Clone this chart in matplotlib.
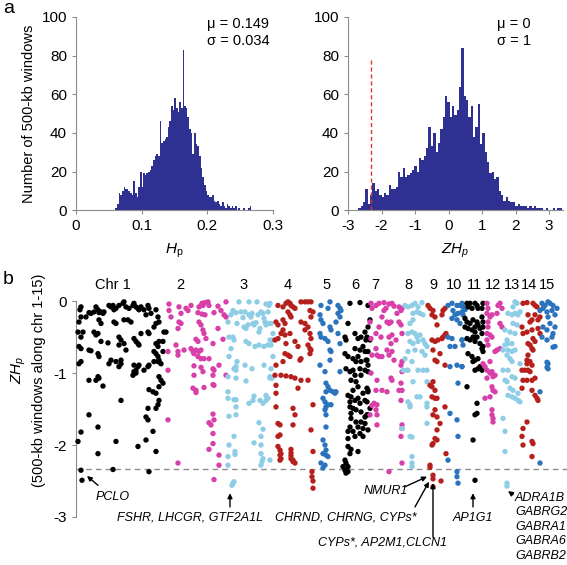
import matplotlib
matplotlib.use("Agg")
import matplotlib.pyplot as plt
import numpy as np

plt.rcParams['font.family'] = ['Liberation Sans', 'DejaVu Sans']
plt.rcParams['mathtext.fontset'] = 'custom'
plt.rcParams['mathtext.rm'] = 'Liberation Sans'
plt.rcParams['mathtext.it'] = 'Liberation Sans:italic'
plt.rcParams['axes.unicode_minus'] = False

# Histogram of Hp (500-kb windows)
hp_bin_start = 0.06
hp_bin_width = 0.0025
hp_counts = [1, 3, 9, 8, 10, 12, 11, 11, 10, 9, 8, 15, 9, 7, 12, 20, 12, 19, 18, 19,
             20, 21, 23, 26, 28, 29, 28, 46, 35, 36, 37, 38, 43, 46, 54, 52, 58, 53, 51, 56,
             53, 83, 54, 53, 48, 42, 40, 29, 40, 34, 33, 28, 22, 17, 13, 10, 8, 7, 7, 8,
             5, 4, 5, 3, 2, 4, 2, 1, 3, 2, 1, 2, 1, 2, 0, 1, 0, 0, 1, 0,
             0, 1, 2, 0]
hp_mean = 0.149
hp_sd = 0.034

# Histogram of ZHp
z_bin_start = -2.7
z_bin_width = 0.07
z_counts = [1, 2, 4, 11, 3, 8, 14, 10, 11, 8, 7, 9, 8, 13, 11, 11, 12, 20, 17, 22,
            17, 18, 19, 21, 23, 20, 27, 26, 28, 32, 43, 33, 40, 30, 35, 42, 48, 59, 56, 48,
            54, 49, 52, 64, 84, 59, 57, 48, 54, 38, 43, 55, 34, 40, 30, 25, 19, 20, 16, 17,
            10, 8, 5, 7, 5, 4, 4, 2, 3, 2, 2, 2, 1, 2, 1, 2, 1, 1, 1, 0,
            1, 0, 0, 1, 0, 1, 1]
z_threshold = -2.33

# ZHp of windows along chromosomes 1-15 (position within chromosome, ZHp)
chrom_names = ['Chr 1', '2', '3', '4', '5', '6', '7', '8', '9', '10', '11', '12', '13', '14', '15']
chrom_lengths = [90, 59, 46, 44, 25, 28, 30, 27, 20, 18, 18, 20, 17, 20, 17]
chrom_label_x = [35, 102, 166, 210, 249, 277, 297, 330, 355, 376, 396, 415, 434, 451, 469]

chr1_points = [
    (3, -0.08), (2, -0.12), (13, -0.17), (11, -0.16), (16, -0.15), (18, -0.08), (20, -0.12),
    (21, -0.16), (23, -0.15), (25, -0.17), (26, -0.15), (31, -0.06), (33, -0.08), (35, -0.06),
    (36, -0.12), (38, -0.10), (41, -0.06), (45, -0.03), (46, -0.01), (48, -0.08), (51, -0.10),
    (55, -0.06), (56, -0.03), (58, -0.08), (60, -0.10), (61, -0.12), (63, -0.08), (66, -0.12),
    (70, -0.06), (71, -0.10), (73, -0.17), (68, -0.19), (78, -0.12), (80, -0.22), (81, -0.29),
    (3, -0.22), (1, -0.29), (8, -0.22), (21, -0.26), (23, -0.31), (36, -0.29), (38, -0.31),
    (46, -0.26), (50, -0.26), (53, -0.29), (78, -0.31), (76, -0.36), (0, -0.43), (5, -0.43),
    (3, -0.50), (1, -0.63), (3, -0.66), (16, -0.43), (18, -0.47), (20, -0.45), (23, -0.56),
    (30, -0.58), (41, -0.50), (43, -0.54), (41, -0.61), (46, -0.59), (48, -0.68), (56, -0.52),
    (58, -0.56), (60, -0.59), (61, -0.61), (63, -0.45), (70, -0.43), (71, -0.45), (78, -0.59),
    (80, -0.63), (81, -0.56), (85, -0.56), (86, -0.43), (88, -0.43), (76, -0.70), (78, -0.73),
    (80, -0.77), (81, -0.82), (80, -0.84), (85, -0.70), (11, -0.68), (13, -0.69), (20, -0.73),
    (21, -0.77), (33, -0.82), (31, -0.87), (38, -0.84), (43, -0.82), (43, -0.87), (41, -0.91),
    (56, -0.89), (58, -0.96), (60, -0.91), (61, -0.89), (66, -0.96), (70, -0.91), (71, -0.89),
    (76, -0.84), (81, -0.84), (83, -0.87), (1, -0.87), (3, -0.84), (11, -1.10), (18, -1.10),
    (20, -1.05), (21, -1.07), (25, -1.18), (55, -1.03), (56, -0.98), (58, -1.00), (81, -1.05),
    (83, -1.10), (85, -1.14), (81, -1.19), (71, -1.23), (75, -1.26), (78, -1.28), (43, -1.38),
    (70, -1.49), (81, -1.38), (80, -1.44), (78, -1.49), (68, -1.61), (70, -1.65), (11, -1.58),
    (20, -1.75), (3, -1.82), (0, -1.95), (38, -1.95), (60, -2.02), (68, -1.93), (75, -1.81),
    (78, -2.09), (20, -2.12), (3, -2.35), (35, -2.34), (71, -2.37), (4, -2.49)]

chr2_points = [
    (1, -0.04), (1, -0.13), (3, -0.22), (11, -0.08), (13, -0.17), (18, -0.10), (20, -0.13),
    (23, -0.06), (30, -0.16), (31, -0.08), (33, -0.06), (34, -0.03), (35, -0.06), (37, -0.02),
    (40, -0.01), (41, -0.06), (50, -0.07), (58, -0.01), (46, -0.16), (53, -0.13), (56, -0.19),
    (58, -0.22), (34, -0.18), (37, -0.19), (11, -0.29), (13, -0.31), (10, -0.38), (31, -0.29),
    (33, -0.33), (35, -0.40), (36, -0.45), (28, -0.53), (30, -0.56), (38, -0.52), (45, -0.59),
    (50, -0.38), (55, -0.53), (8, -0.61), (10, -0.70), (10, -0.75), (16, -0.68), (23, -0.66),
    (25, -0.70), (26, -0.73), (28, -0.68), (31, -0.70), (33, -0.68), (30, -0.77), (33, -0.80),
    (36, -0.80), (41, -0.80), (0, -0.70), (0, -0.96), (26, -0.90), (26, -1.03), (33, -0.92),
    (35, -0.98), (45, -0.94), (46, -0.96), (45, -1.03), (51, -0.89), (58, -1.03), (25, -1.21),
    (28, -1.24), (28, -1.27), (36, -1.20), (45, -1.16), (46, -1.17), (0, -1.65), (45, -1.57),
    (46, -1.65), (41, -1.69), (43, -1.72), (45, -1.84), (45, -1.98), (41, -2.06), (51, -2.14),
    (51, -2.28), (10, -2.25), (46, -2.48)]

chr3_points = [
    (12, -0.01), (22, -0.01), (30, -0.01), (39, -0.04), (42, -0.06), (1, -0.29), (4, -0.19),
    (6, -0.13), (9, -0.16), (10, -0.31), (14, -0.15), (16, -0.23), (18, -0.15), (17, -0.36),
    (19, -0.38), (21, -0.33), (22, -0.19), (24, -0.22), (25, -0.17), (26, -0.31), (27, -0.33),
    (29, -0.30), (31, -0.19), (33, -0.38), (34, -0.15), (36, -0.17), (37, -0.24), (38, -0.29),
    (41, -0.15), (39, -0.33), (42, -0.31), (32, -0.43), (32, -0.61), (2, -0.50), (6, -0.50),
    (7, -0.54), (4, -0.66), (2, -0.77), (19, -0.56), (22, -0.59), (28, -0.63), (37, -0.63),
    (41, -0.61), (45, -0.54), (10, -0.84), (9, -0.91), (9, -0.96), (7, -0.94), (18, -0.89),
    (25, -0.94), (37, -0.89), (43, -1.05), (45, -1.07), (1, -1.05), (9, -1.07), (19, -1.11),
    (1, -1.26), (1, -1.35), (7, -1.37), (9, -1.37), (27, -1.32), (26, -1.38), (22, -1.42),
    (33, -1.38), (39, -1.31), (39, -1.38), (36, -1.42), (9, -1.47), (2, -1.60), (9, -1.58),
    (32, -1.69), (36, -1.78), (7, -1.88), (34, -1.88), (27, -1.97), (2, -2.00), (34, -2.00),
    (8, -2.09), (8, -2.13), (34, -2.12), (1, -2.16), (36, -2.19), (35, -2.23), (34, -2.28),
    (1, -2.28), (7, -2.51), (6, -2.53), (5, -2.56), (43, -0.03), (44, -0.31), (46, -0.45),
    (43, -0.54), (44, -0.61), (46, -0.77), (44, -0.94), (43, -1.07), (41, -1.35), (43, -2.21)]

chr4_points = [
    (5, -0.06), (10, -0.08), (13, -0.03), (15, -0.01), (17, -0.03), (18, -0.06), (20, -0.08),
    (22, -0.10), (15, -0.15), (17, -0.19), (18, -0.22), (28, -0.01), (32, -0.01), (35, -0.01),
    (38, -0.01), (37, -0.13), (40, -0.15), (38, -0.22), (28, -0.29), (32, -0.31), (35, -0.36),
    (3, -0.29), (5, -0.33), (10, -0.26), (12, -0.31), (10, -0.40), (8, -0.45), (12, -0.47),
    (17, -0.45), (5, -0.52), (2, -0.54), (32, -0.40), (37, -0.45), (38, -0.52), (35, -0.61),
    (37, -0.66), (38, -0.68), (37, -0.73), (22, -0.56), (25, -0.63), (28, -0.80), (27, -0.82),
    (13, -0.59), (12, -0.73), (10, -0.84), (15, -0.75), (17, -0.77), (3, -0.89), (2, -1.03),
    (8, -1.03), (13, -1.04), (18, -1.05), (22, -1.07), (28, -1.10), (35, -1.10), (3, -1.17),
    (3, -1.28), (3, -1.47), (25, -1.21), (20, -1.49), (22, -1.58), (40, -1.44), (5, -1.70),
    (7, -1.72), (7, -1.86), (5, -1.88), (20, -1.72), (38, -1.79), (5, -2.02), (7, -2.07),
    (8, -2.12), (7, -2.14), (8, -2.19), (7, -2.21), (18, -2.06), (18, -2.11), (18, -2.15),
    (18, -2.19), (20, -2.21), (20, -2.23), (22, -2.25), (40, -2.09), (39, -2.37), (39, -2.44),
    (40, -2.50), (40, -2.60)]

chr5_points = [
    (4, -0.06), (13, -0.01), (11, -0.10), (21, -0.06), (23, -0.10), (24, -0.13), (21, -0.17),
    (23, -0.22), (19, -0.29), (3, -0.19), (4, -0.26), (6, -0.31), (3, -0.45), (4, -0.50),
    (8, -0.52), (11, -0.56), (13, -0.68), (14, -0.70), (13, -0.82), (21, -0.45), (23, -0.59),
    (13, -0.36), (14, -0.40), (3, -0.89), (8, -0.98), (9, -1.14), (11, -1.19), (9, -1.26),
    (13, -1.24), (16, -1.26), (18, -1.28), (19, -1.26), (6, -1.35), (8, -1.40), (9, -1.47),
    (11, -1.44), (14, -1.44), (8, -1.51), (9, -1.58), (9, -1.75), (6, -1.93), (8, -2.00),
    (9, -2.07), (6, -2.12), (9, -2.14), (11, -2.16), (4, -2.25), (8, -2.28), (6, -2.32),
    (23, -0.98)]

chr6_points = [
    (8, -0.03), (18, -0.02), (6, -0.31), (3, -0.50), (4, -0.54), (13, -0.45), (16, -0.52),
    (19, -0.50), (23, -0.43), (24, -0.54), (13, -0.66), (18, -0.68), (21, -0.63), (23, -0.70),
    (3, -0.73), (6, -0.77), (11, -0.80), (14, -0.84), (16, -0.77), (19, -0.84), (24, -0.82),
    (4, -0.94), (8, -0.98), (11, -0.96), (13, -1.03), (18, -0.94), (19, -1.03), (23, -0.96),
    (26, -0.89), (9, -1.10), (14, -1.12), (16, -1.19), (11, -1.24), (6, -1.31), (9, -1.33),
    (8, -1.40), (13, -1.38), (16, -1.35), (18, -1.42), (21, -1.28), (23, -1.38), (26, -1.24),
    (8, -1.47), (11, -1.49), (9, -1.56), (14, -1.51), (19, -1.54), (23, -1.61), (26, -1.58),
    (9, -1.63), (14, -1.68), (16, -1.75), (19, -1.68), (21, -1.77), (23, -1.70), (8, -1.75),
    (6, -1.81), (11, -1.81), (13, -1.88), (6, -1.91), (18, -1.84), (21, -1.88), (6, -2.02),
    (9, -2.06), (8, -2.12), (16, -2.09), (3, -2.21), (4, -2.25), (6, -2.30), (3, -2.35),
    (4, -2.39), (6, -2.37), (1, -2.30), (26, -0.06), (28, -0.26), (26, -0.36), (25, -0.50),
    (28, -0.54), (26, -0.70), (25, -0.82), (26, -0.98), (25, -1.21), (26, -1.26), (25, -1.40),
    (28, -1.49), (25, -1.58), (26, -1.79)]

chr7_points = [
    (6, -0.06), (9, -0.03), (14, -0.02), (16, -0.10), (19, -0.04), (22, -0.03), (24, -0.07),
    (29, -0.08), (31, -0.13), (27, -0.17), (32, -0.10), (12, -0.22), (14, -0.13), (17, -0.29),
    (19, -0.31), (21, -0.29), (29, -0.29), (31, -0.33), (9, -0.36), (6, -0.45), (11, -0.50),
    (19, -0.50), (22, -0.47), (26, -0.54), (21, -0.59), (32, -0.45), (6, -0.66), (7, -0.75),
    (9, -0.77), (12, -0.77), (17, -0.68), (19, -0.75), (22, -0.70), (24, -0.82), (32, -0.84),
    (31, -0.89), (32, -0.98), (7, -1.10), (21, -1.07), (22, -1.10), (31, -1.14), (6, -1.24),
    (12, -1.24), (17, -1.26), (29, -1.24), (32, -1.24), (4, -1.42), (7, -1.44), (31, -1.38),
    (6, -1.51), (7, -1.58), (7, -1.72), (32, -1.72), (32, -1.77), (31, -1.88), (32, -2.25),
    (19, -2.37), (1, -0.03), (2, -0.10), (0, -0.29), (1, -0.52), (2, -0.75), (1, -1.00),
    (2, -1.45), (0, -1.58)]

chr8_points = [
    (5, -0.06), (8, -0.08), (12, -0.06), (15, -0.03), (18, -0.08), (22, -0.02), (13, -0.17),
    (17, -0.15), (20, -0.17), (23, -0.19), (10, -0.31), (13, -0.26), (8, -0.45), (12, -0.43),
    (15, -0.45), (17, -0.50), (20, -0.47), (10, -0.56), (13, -0.59), (18, -0.56), (23, -0.54),
    (25, -0.59), (27, -0.63), (8, -0.70), (15, -0.68), (22, -0.70), (25, -0.75), (5, -0.80),
    (12, -0.84), (3, -0.96), (7, -0.96), (8, -0.96), (18, -0.96), (23, -0.96), (27, -0.96),
    (13, -1.12), (27, -1.12), (17, -1.33), (20, -1.33), (8, -1.40), (10, -1.44), (10, -1.47),
    (27, -1.42), (27, -1.47), (27, -1.70), (2, -1.77), (10, -1.88), (12, -1.89), (12, -2.16),
    (12, -2.25), (12, -2.30)]

chr9_points = [
    (1, -0.06), (3, -0.10), (5, -0.19), (8, -0.22), (6, -0.13), (16, -0.13), (18, -0.10),
    (15, -0.19), (10, -0.33), (5, -0.54), (8, -0.56), (11, -0.54), (15, -0.52), (16, -0.50),
    (18, -0.47), (19, -0.45), (6, -0.68), (8, -0.82), (10, -0.84), (13, -0.73), (18, -0.89),
    (3, -1.17), (5, -1.19), (6, -1.12), (8, -1.24), (5, -1.33), (8, -1.35), (10, -1.35),
    (18, -1.47), (8, -1.51), (6, -1.58), (10, -1.61), (13, -1.70), (10, -1.79), (8, -1.91),
    (10, -1.93), (6, -1.98), (5, -2.00), (19, -2.12), (3, -2.28), (3, -2.31), (6, -2.42),
    (6, -2.47), (14, -2.50), (6, -2.58)]

chr10_points = [
    (1, -0.06), (5, -0.03), (10, -0.06), (13, -0.06), (16, -0.08), (6, -0.13), (8, -0.19),
    (11, -0.17), (15, -0.15), (5, -0.24), (10, -0.26), (13, -0.31), (1, -0.50), (5, -0.52),
    (3, -0.63), (8, -0.63), (15, -0.54), (16, -0.61), (3, -0.91), (10, -0.89), (15, -0.91),
    (11, -1.14), (3, -1.56), (10, -1.65), (11, -1.88), (1, -2.21), (10, -2.37), (10, -2.44),
    (11, -2.53), (15, -0.03), (18, -0.12), (16, -0.19), (15, -0.54), (15, -0.91)]

chr11_points = [
    (2, -0.03), (5, -0.03), (10, -0.03), (12, -0.06), (3, -0.08), (7, -0.10), (13, -0.10),
    (18, -0.03), (17, -0.10), (0, -0.24), (2, -0.29), (5, -0.31), (8, -0.26), (12, -0.29),
    (13, -0.33), (10, -0.36), (0, -0.36), (3, -0.38), (7, -0.40), (10, -0.43), (15, -0.38),
    (18, -0.36), (17, -0.22), (18, -0.29), (8, -0.50), (12, -0.50), (2, -0.52), (5, -0.54),
    (10, -0.56), (17, -0.45), (15, -0.59), (18, -0.63), (17, -0.66), (18, -0.70), (3, -0.73),
    (7, -0.77), (10, -0.82), (8, -0.84), (13, -0.80), (15, -0.91), (17, -0.96), (10, -0.96),
    (13, -0.94), (2, -1.19), (12, -1.42), (10, -1.58), (12, -1.56), (8, -1.93), (10, -2.49)]

chr12_points = [
    (4, -0.03), (5, -0.10), (4, -0.17), (7, -0.22), (9, -0.19), (14, -0.17), (15, -0.06),
    (17, -0.03), (19, -0.10), (5, -0.29), (5, -0.36), (17, -0.31), (19, -0.36), (4, -0.45),
    (7, -0.47), (9, -0.50), (4, -0.54), (5, -0.61), (12, -0.70), (14, -0.68), (17, -0.66),
    (0, -0.87), (7, -0.84), (2, -0.91), (4, -0.96), (7, -1.00), (9, -0.98), (10, -1.05),
    (12, -1.03), (4, -1.07), (9, -1.19), (10, -1.24), (12, -1.26), (2, -1.35), (7, -1.33),
    (9, -1.51), (9, -1.58), (10, -1.63), (10, -1.68)]

chr13_points = [
    (12, -0.01), (14, -0.03), (10, -0.08), (5, -0.17), (9, -0.19), (12, -0.17), (15, -0.19),
    (17, -0.15), (10, -0.31), (14, -0.33), (2, -0.40), (7, -0.43), (12, -0.45), (4, -0.54),
    (5, -0.59), (9, -0.59), (2, -0.61), (0, -0.68), (5, -0.68), (9, -0.70), (12, -0.68),
    (4, -0.75), (7, -0.80), (9, -0.84), (17, -0.87), (0, -0.96), (5, -0.96), (9, -1.05),
    (12, -1.07), (2, -1.10), (4, -1.12), (7, -1.21), (10, -1.24), (15, -1.28), (5, -1.31),
    (9, -1.33), (12, -1.35), (15, -1.38), (17, -1.40), (0, -1.63), (2, -1.81), (2, -2.09),
    (4, -2.53), (4, -2.57)]

chr14_points = [
    (3, -0.03), (7, -0.02), (13, -0.03), (15, -0.06), (17, -0.08), (8, -0.19), (12, -0.26),
    (10, -0.29), (15, -0.19), (20, -0.22), (18, -0.26), (2, -0.36), (3, -0.45), (7, -0.43),
    (12, -0.40), (18, -0.38), (20, -0.45), (13, -0.52), (15, -0.56), (8, -0.59), (10, -0.61),
    (12, -0.66), (13, -0.68), (8, -0.75), (7, -0.82), (10, -0.84), (12, -0.89), (7, -0.87),
    (5, -0.96), (8, -0.96), (10, -0.98), (2, -0.96), (3, -1.10), (7, -1.10), (12, -1.10),
    (15, -1.07), (2, -1.21), (12, -1.24), (15, -1.31), (17, -1.35), (18, -1.38), (3, -1.77),
    (2, -1.88), (7, -1.68), (12, -1.95), (13, -1.98), (3, -2.00), (12, -2.16)]

chr15_points = [
    (2, -0.03), (5, -0.06), (8, -0.01), (10, -0.03), (13, -0.06), (17, -0.10), (0, -0.13),
    (3, -0.10), (7, -0.15), (12, -0.13), (15, -0.19), (8, -0.22), (10, -0.31), (15, -0.36),
    (3, -0.36), (7, -0.40), (13, -0.45), (2, -0.50), (12, -0.50), (7, -0.54), (15, -0.63),
    (8, -0.87), (8, -0.94), (0, -1.26), (0, -2.25), (13, -0.64), (7, -0.85), (7, -0.92)]

chrom_points = [chr1_points, chr2_points, chr3_points, chr4_points, chr5_points,
                chr6_points, chr7_points, chr8_points, chr9_points, chr10_points,
                chr11_points, chr12_points, chr13_points, chr14_points, chr15_points]

chrom_colors = ['#000000', '#d83fa8', '#8ecde6', '#b5201d', '#2b74bd']

bar_color = '#2e3192'
spine_color = '#8c8c8c'


def style_axis(ax):
    for side in ['top', 'right']:
        ax.spines[side].set_visible(False)
    for side in ['left', 'bottom']:
        ax.spines[side].set_color(spine_color)
    ax.tick_params(colors=spine_color, labelcolor='black', labelsize=11, length=3, width=0.8)


fig = plt.figure(figsize=(5.67, 5.65), dpi=100)

# panel a, left: Hp
ax1 = fig.add_axes([0.134, 0.628, 0.347, 0.342])
hp_edges = hp_bin_start + hp_bin_width * np.arange(len(hp_counts) + 1)
ax1.stairs(hp_counts, hp_edges, fill=True, color=bar_color, linewidth=0)
ax1.set_xlim(0, 0.3)
ax1.set_ylim(0, 100)
ax1.set_xticks([0, 0.1, 0.2, 0.3])
ax1.set_xticklabels(['0', '0.1', '0.2', '0.3'])
ax1.set_yticks([0, 20, 40, 60, 80, 100])
style_axis(ax1)
ax1.set_ylabel('Number of 500-kb windows', fontsize=10.5, labelpad=4)
ax1.set_xlabel(r'$H_\mathrm{p}$', fontsize=11, labelpad=6)
ax1.text(0.2, 100, f'\u03bc = {hp_mean}\n\u03c3 = {hp_sd}', fontsize=10.5,
         va='top', ha='left', linespacing=1.3)

# panel a, right: ZHp
ax2 = fig.add_axes([0.614, 0.628, 0.379, 0.342])
z_edges = z_bin_start + z_bin_width * np.arange(len(z_counts) + 1)
ax2.stairs(z_counts, z_edges, fill=True, color=bar_color, linewidth=0)
ax2.plot([z_threshold, z_threshold], [0, 79], color='#e8322e', linestyle=(0, (3, 2)), lw=1)
ax2.set_xlim(-3, 3.42)
ax2.set_ylim(0, 100)
ax2.set_xticks([-3, -2, -1, 0, 1, 2, 3])
ax2.set_yticks([0, 20, 40, 60, 80, 100])
style_axis(ax2)
ax2.set_xlabel(r'$ZH_p$', fontsize=11, labelpad=6)
ax2.text(1.45, 100, '\u03bc = 0\n\u03c3 = 1', fontsize=10.5, va='top', ha='left', linespacing=1.3)

# panel b: ZHp along chromosomes
ax3 = fig.add_axes([0.134, 0.085, 0.866, 0.382])
offsets = np.concatenate([[0], np.cumsum(chrom_lengths)[:-1]])
for i, pts in enumerate(chrom_points):
    pos = np.array([p[0] for p in pts]) + offsets[i]
    zhp = np.array([p[1] for p in pts])
    ax3.scatter(pos, zhp, s=15, color=chrom_colors[i % 5], edgecolors='none',
                clip_on=False, zorder=3)
    ax3.text(chrom_label_x[i], 0.22, chrom_names[i], fontsize=10.5, ha='center', va='center')

ax3.axhline(z_threshold, color='#8c8c8c', lw=1, linestyle=(0, (4, 3)), zorder=1)
ax3.set_xlim(-2, 489)
ax3.set_ylim(-3, 0)
ax3.set_yticks([0, -1, -2, -3])
ax3.set_yticklabels(['0', '-1', '-2', '-3'])
ax3.set_xticks([])
style_axis(ax3)
ax3.spines['bottom'].set_visible(False)

arrow = dict(arrowstyle='-|>', color='black', lw=1, mutation_scale=7, shrinkA=0, shrinkB=0)
ann_font = dict(fontsize=9, style='italic', ha='center', va='center')
ax3.annotate('', xy=(9, -2.43), xytext=(20, -2.56), arrowprops=arrow, annotation_clip=False)
ax3.text(35, -2.72, 'PCLO', **ann_font)
ax3.annotate('', xy=(152, -2.67), xytext=(152, -2.86), arrowprops=arrow, annotation_clip=False)
ax3.text(112, -3.01, 'FSHR, LHCGR, GTF2A1L', clip_on=False, **ann_font)
ax3.text(268, -3.01, 'CHRND, CHRNG, CYPs*', clip_on=False, **ann_font)
ax3.text(308, -2.64, 'NMUR1', **ann_font)
ax3.annotate('', xy=(349, -2.44), xytext=(327, -2.58), arrowprops=arrow, annotation_clip=False)
ax3.annotate('', xy=(351, -2.51), xytext=(337, -2.86), arrowprops=arrow, annotation_clip=False)
ax3.annotate('', xy=(355, -2.53), xytext=(355, -3.28), arrowprops=arrow, annotation_clip=False)
ax3.text(305, -3.36, 'CYPs*, AP2M1,CLCN1', clip_on=False, **ann_font)
ax3.annotate('', xy=(395, -2.67), xytext=(395, -2.86), arrowprops=arrow, annotation_clip=False)
ax3.text(395, -3.01, 'AP1G1', clip_on=False, **ann_font)
ax3.annotate('', xy=(430, -2.64), xytext=(435, -2.69), arrowprops=arrow, annotation_clip=False)
ax3.text(437, -2.65, 'ADRA1B\nGABRG2\nGABRA1\nGABRA6\nGABRB2', fontsize=9, style='italic',
         ha='left', va='top', linespacing=1.28, clip_on=False)

fig.text(0.034, 0.345, r'$ZH_p$', rotation=90, fontsize=11, ha='center', va='center')
fig.text(0.068, 0.327, '(500-kb windows along chr 1-15)', rotation=90, fontsize=10.5,
         ha='center', va='center')

fig.text(0.005, 0.985, 'a', fontsize=14, va='center', ha='left')
fig.text(0.005, 0.505, 'b', fontsize=14, va='center', ha='left')

fig.savefig('out.png', dpi=100)
